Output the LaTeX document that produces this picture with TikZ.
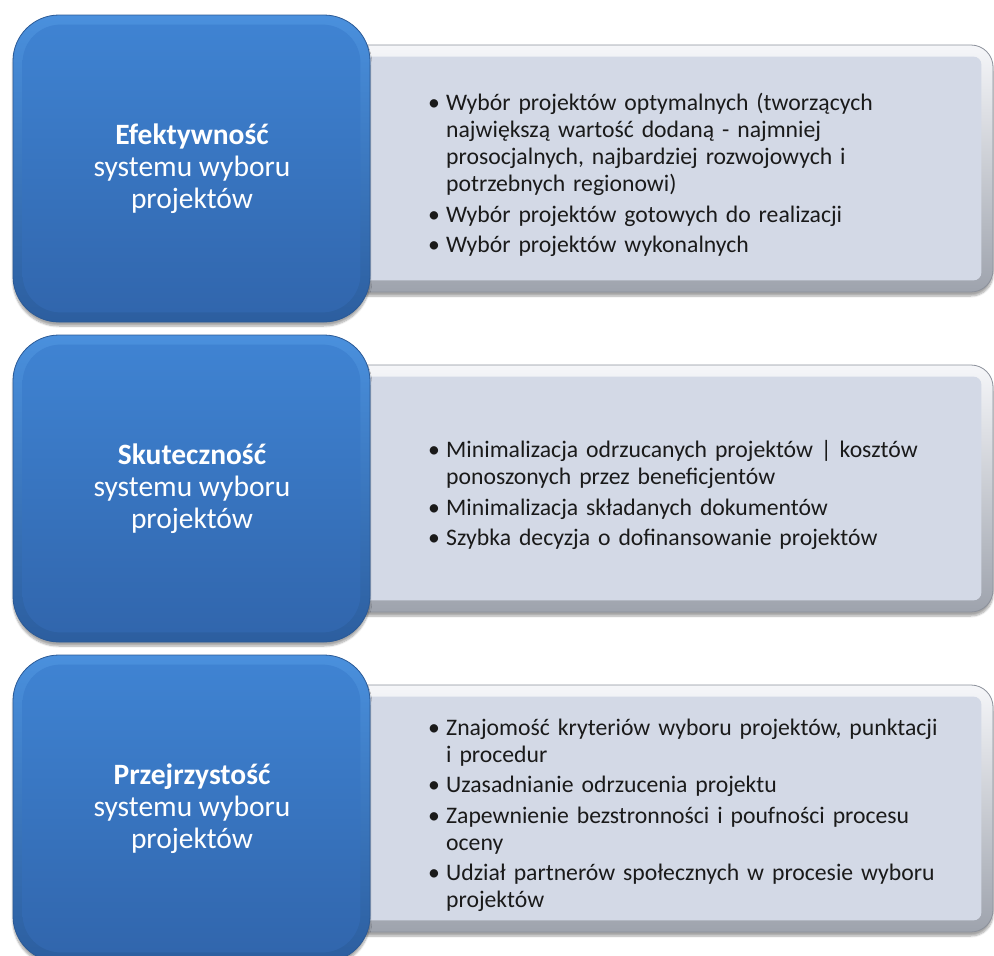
\documentclass[tikz,border=0pt]{standalone}
\usepackage{fontspec}
\setmainfont{Carlito}
\usetikzlibrary{shadows,shadows.blur}
\definecolor{blueA}{HTML}{4A90DD}
\definecolor{blueB}{HTML}{2C5E9F}
\definecolor{blueC}{HTML}{3F83D2}
\definecolor{blueD}{HTML}{3166AD}
\definecolor{blueEdge}{HTML}{2B5A96}
\definecolor{greyA}{HTML}{F5F6F9}
\definecolor{greyB}{HTML}{9EA3AD}
\definecolor{greyFill}{HTML}{D3D9E6}
\definecolor{greyEdge}{HTML}{8C919B}
\definecolor{txt}{HTML}{1A1A1A}
\newcommand\bitem[1]{\par\hangindent=18pt\hangafter=1\noindent\makebox[18pt][l]{•}#1}
\tikzset{
  bluebg/.style={rounded corners=46pt, draw=blueEdge, line width=0.8pt,
    top color=blueA, bottom color=blueB, minimum width=357pt, minimum height=307pt,
    inner sep=0pt, blur shadow={shadow xshift=0pt, shadow yshift=-4pt, shadow blur steps=8, shadow opacity=35}},
  blueinner/.style={rounded corners=38pt, top color=blueC, bottom color=blueD},
  greybg/.style={rounded corners=22pt, draw=greyEdge, line width=0.8pt,
    top color=greyA, bottom color=greyB, minimum width=663pt, minimum height=247pt,
    inner sep=0pt, blur shadow={shadow xshift=0pt, shadow yshift=-4pt, shadow blur steps=8, shadow opacity=35}},
  greyinner/.style={rounded corners=8pt, fill=greyFill},
  titletext/.style={text=white, align=center, font=\fontsize{29.5}{32}\selectfont, inner sep=0pt},
  listtext/.style={text=txt, text width=540pt, font=\fontsize{23.7}{27}\selectfont, inner sep=0pt, anchor=west}
}
\begin{document}
\begin{tikzpicture}[x=1pt,y=-1pt]
\useasboundingbox (0,0) rectangle (994,956);
\begin{scope}
\clip (0,0) rectangle (994,956);
% row 1
\node[greybg] (g1bg) at (661.5,168.5) {};
\path[greyinner] ([shift={(12,12)}]g1bg.north west) rectangle ([shift={(-12,-12)}]g1bg.south east);
\node[bluebg] (b1bg) at (191.5,168.5) {};
\path[blueinner] ([shift={(10,10)}]b1bg.north west) rectangle ([shift={(-10,-10)}]b1bg.south east);
% row 2
\node[greybg] (g2bg) at (661.5,488.5) {};
\path[greyinner] ([shift={(12,12)}]g2bg.north west) rectangle ([shift={(-12,-12)}]g2bg.south east);
\node[bluebg] (b2bg) at (191.5,488.5) {};
\path[blueinner] ([shift={(10,10)}]b2bg.north west) rectangle ([shift={(-10,-10)}]b2bg.south east);
% row 3
\node[greybg] (g3bg) at (661.5,808.5) {};
\path[greyinner] ([shift={(12,12)}]g3bg.north west) rectangle ([shift={(-12,-12)}]g3bg.south east);
\node[bluebg] (b3bg) at (191.5,808.5) {};
\path[blueinner] ([shift={(10,10)}]b3bg.north west) rectangle ([shift={(-10,-10)}]b3bg.south east);
\end{scope}
% titles
\node[titletext] (b1) at (192,168.5) {\textbf{Efektywność}\\systemu wyboru\\projektów};
\node[titletext] (b2) at (192,488.5) {\textbf{Skuteczność}\\systemu wyboru\\projektów};
\node[titletext] (b3) at (192,808.5) {\textbf{Przejrzystość}\\systemu wyboru\\projektów};
% lists
\node[listtext] (l1) at (428,168.5) {\raggedright\parskip=3.5pt
\bitem{Wybór projektów optymalnych (tworzących\newline największą wartość dodaną - najmniej\newline prosocjalnych, najbardziej rozwojowych i\newline potrzebnych regionowi)}
\bitem{Wybór projektów gotowych do realizacji}
\bitem{Wybór projektów wykonalnych}\par};
\node[listtext] (l2) at (428,488.5) {\raggedright\parskip=3.5pt
\bitem{Minimalizacja odrzucanych projektów | kosztów\newline ponoszonych przez beneficjentów}
\bitem{Minimalizacja składanych dokumentów}
\bitem{Szybka decyzja o dofinansowanie projektów}\par};
\node[listtext] (l3) at (428,808.5) {\raggedright\parskip=3.5pt
\bitem{Znajomość kryteriów wyboru projektów, punktacji\newline i procedur}
\bitem{Uzasadnianie odrzucenia projektu}
\bitem{Zapewnienie bezstronności i poufności procesu\newline oceny}
\bitem{Udział partnerów społecznych w procesie wyboru\newline projektów}\par};
\end{tikzpicture}
\end{document}
